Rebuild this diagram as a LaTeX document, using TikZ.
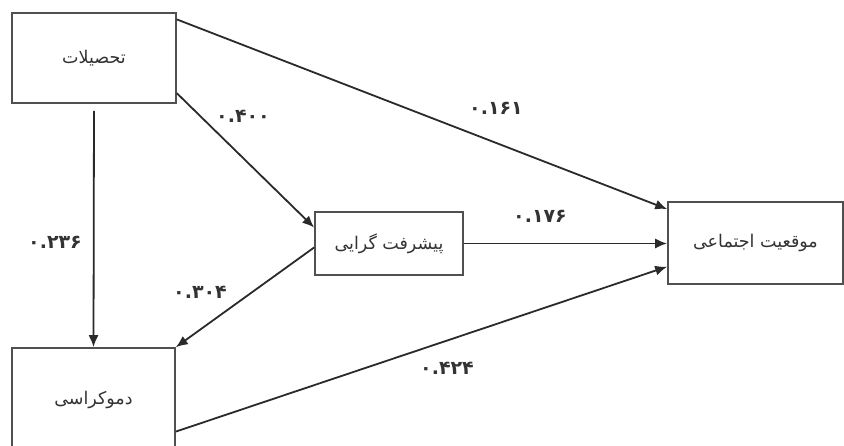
\documentclass[tikz,border=0pt]{standalone}
\usepackage{fontspec}
\usetikzlibrary{arrows.meta,calc}
\TeXXeTstate=1
\newfontfamily\fa[Script=Arabic]{DejaVu Sans}
\newfontfamily\fanum{DejaVu Sans}
\definecolor{linec}{HTML}{2A2A2A}
\definecolor{boxc}{HTML}{505050}
\definecolor{txtc}{HTML}{333333}
\tikzset{
  varbox/.style={draw=boxc, line width=1.6pt, fill=white, inner sep=0pt, text=txtc, font=\fa\fontsize{17.5}{20}\selectfont},
  conn/.style={draw=linec, line width=1.8pt, -{Latex[length=12pt,width=10pt]}},
  coef/.style={text=txtc, font=\fanum\bfseries\fontsize{19}{22}\selectfont, inner sep=0pt}
}
\begin{document}
\begin{tikzpicture}[x=1pt,y=-1pt]
\useasboundingbox (0,0) rectangle (844,445);
\clip (0,0) rectangle (844,445);
\fill[white] (0,0) rectangle (844,445);
\node[varbox, minimum width=164pt, minimum height=90pt] (A) at (94,58) {\beginR تحصیلات\endR};
\node[varbox, minimum width=148pt, minimum height=63pt] (B) at (389,243.5) {\beginR پیشرفت گرایی\endR};
\node[varbox, minimum width=175pt, minimum height=82pt] (C) at (755.5,243) {\beginR موقعیت اجتماعی\endR};
\node[varbox, minimum width=163pt, minimum height=104pt] (D) at (93.5,400) {\beginR دموکراسی\endR};
\draw[conn, shorten <=7pt] (A.south) -- (D.north);
\draw[conn] (A.25) -- (C.159);
\draw[conn] (A.-23) -- (B.168);
\draw[conn] (B.east) -- (B.east -| C.west);
\draw[conn] (B.183) -- (D.north east);
\draw[conn] (D.-21) -- (C.195);
\node[coef] (l1) at (243,116) {۰.۴۰۰};
\node[coef] (l2) at (496,108) {۰.۱۶۱};
\node[coef] (l3) at (540,216) {۰.۱۷۶};
\node[coef] (l4) at (55,242) {۰.۲۳۶};
\node[coef] (l5) at (200,292) {۰.۳۰۴};
\node[coef] (l6) at (447,368) {۰.۴۲۴};
\end{tikzpicture}
\end{document}
